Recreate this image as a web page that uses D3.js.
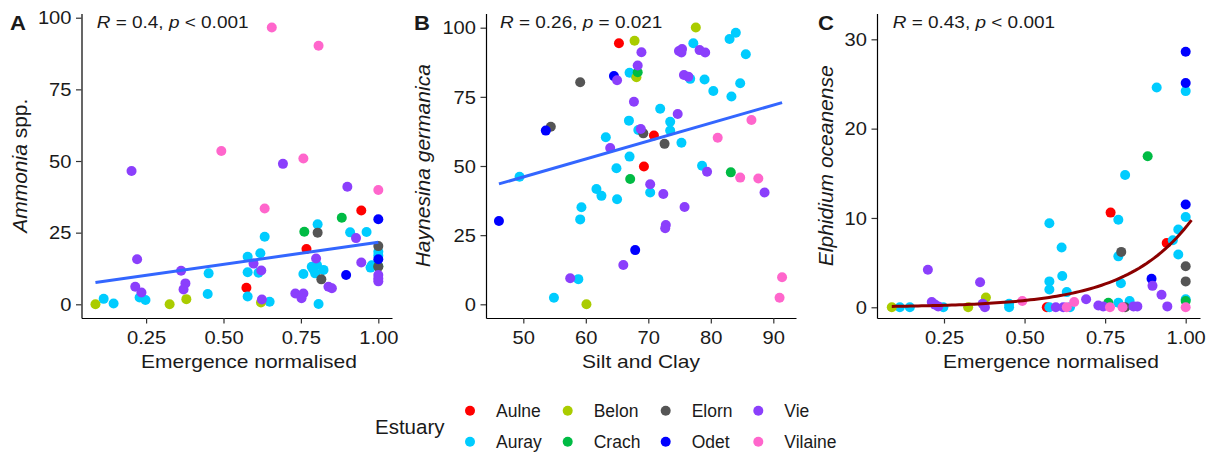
<!DOCTYPE html>
<html><head><meta charset="utf-8">
<script src="https://cdn.jsdelivr.net/npm/d3@7"></script>
<style>
body{margin:0;background:#fff}
text{font-family:"Liberation Sans",Arial,Helvetica,sans-serif;fill:#1a1a1a}
</style>
</head><body><svg id="c" width="1214" height="453"></svg>
<script>
// ---------- data ----------
const estuaries = ["Aulne","Auray","Belon","Crach","Elorn","Odet","Vie","Vilaine"];
const estuaryColors = ["#FF0000","#00CCFF","#AACC00","#00BB44","#555555","#0000FF","#8B3FFC","#FF66CC"];

// Panel A: Emergence normalised vs Ammonia spp.
const ammonia = [
 ["Aulne",0.945,32.7],["Aulne",0.768,19.3],["Aulne",0.574,5.8],
 ["Auray",0.804,27.9],["Auray",0.909,25.1],["Auray",0.962,25.2],["Auray",0.633,23.6],["Auray",0.619,17.8],
 ["Auray",0.578,16.6],["Auray",0.613,11.0],["Auray",0.578,11.2],["Auray",0.452,10.8],["Auray",0.758,10.6],
 ["Auray",0.785,13.1],["Auray",0.802,13.7],["Auray",0.823,12.0],["Auray",0.796,10.8],["Auray",0.807,0.1],
 ["Auray",0.979,13.6],["Auray",0.975,12.8],["Auray",1.0,18.3],["Auray",1.0,17.0],["Auray",0.578,2.7],
 ["Auray",0.649,0.9],["Auray",0.113,1.9],["Auray",0.145,0.3],["Auray",0.229,2.4],["Auray",0.248,1.5],
 ["Auray",0.449,3.6],["Auray",0.790,12.2],
 ["Belon",0.0865,0],["Belon",0.326,0],["Belon",0.380,1.8],["Belon",0.621,0.6],
 ["Crach",0.882,30.2],["Crach",0.761,25.3],["Crach",1.0,13.3],
 ["Elorn",0.804,25.0],["Elorn",1.0,20.3],["Elorn",1.0,13.1],["Elorn",0.816,8.7],
 ["Odet",1.0,29.7],["Odet",1.0,15.7],["Odet",0.896,10.2],
 ["Vie",0.203,46.5],["Vie",0.692,49.0],["Vie",0.900,41.0],["Vie",0.928,23.1],["Vie",0.945,14.6],
 ["Vie",0.799,16.0],["Vie",0.597,14.2],["Vie",0.622,11.8],["Vie",0.363,11.7],["Vie",0.221,15.7],
 ["Vie",0.215,6.1],["Vie",0.235,4.1],["Vie",0.377,7.3],["Vie",0.371,5.2],["Vie",0.624,1.7],
 ["Vie",0.732,3.8],["Vie",0.758,3.8],["Vie",0.752,2.1],["Vie",0.839,6.1],["Vie",0.850,5.6],
 ["Vie",1.0,10.2],["Vie",1.0,9.0],["Vie",1.0,8.0],
 ["Vilaine",0.656,96.6],["Vilaine",0.807,90.2],["Vilaine",0.493,53.5],["Vilaine",0.758,50.9],
 ["Vilaine",1.0,39.9],["Vilaine",0.633,33.4]
];

// Panel B: Silt and Clay vs Haynesina germanica
const haynesina = [
 ["Aulne",65.3,94.4],["Aulne",69.3,49.8],["Aulne",70.9,61.0],
 ["Auray",49.4,46.1],["Auray",54.9,2.4],["Auray",58.8,9.1],["Auray",59.3,35.1],["Auray",59.1,30.7],
 ["Auray",61.7,41.7],["Auray",62.5,39.2],["Auray",63.2,60.4],["Auray",64.9,49.2],["Auray",65.0,38.0],
 ["Auray",67.0,83.7],["Auray",66.9,66.4],["Auray",67.0,53.4],["Auray",68.4,63.0],["Auray",70.3,40.4],
 ["Auray",71.9,70.7],["Auray",73.5,66.0],["Auray",73.5,62.8],["Auray",75.3,58.4],["Auray",76.7,81.5],
 ["Auray",77.2,94.4],["Auray",79.0,81.3],["Auray",78.6,50.1],["Auray",80.4,77.1],["Auray",83.0,95.9],
 ["Auray",84.0,98.2],["Auray",83.3,75.1],["Auray",84.7,79.9],["Auray",85.6,90.4],["Auray",68.0,82.5],
 ["Belon",60.1,0],["Belon",67.8,95.3],["Belon",68.1,82.1],["Belon",77.6,100.1],
 ["Crach",67.1,45.3],["Crach",68.3,83.9],["Crach",83.2,47.7],
 ["Elorn",54.4,64.2],["Elorn",59.1,80.3],["Elorn",69.2,61.8],["Elorn",72.6,58.0],
 ["Odet",46.1,30.1],["Odet",53.6,62.8],["Odet",64.5,82.5],["Odet",67.9,19.6],
 ["Vie",57.5,9.4],["Vie",63.9,56.5],["Vie",65.0,81.0],["Vie",66.0,14.2],["Vie",67.7,73.2],
 ["Vie",68.3,86.3],["Vie",68.9,91.1],["Vie",68.8,63.4],["Vie",70.3,43.4],["Vie",72.4,39.9],
 ["Vie",72.8,28.7],["Vie",72.7,27.5],["Vie",74.7,68.8],["Vie",75.8,35.2],["Vie",74.9,91.6],
 ["Vie",75.4,92.3],["Vie",75.3,91.0],["Vie",75.7,82.9],["Vie",76.4,82.3],["Vie",78.2,91.9],
 ["Vie",79.1,91.0],["Vie",79.4,47.9],["Vie",88.6,40.4],
 ["Vilaine",81.1,60.2],["Vilaine",84.7,45.8],["Vilaine",86.5,66.6],["Vilaine",87.6,45.5],
 ["Vilaine",91.4,9.8],["Vilaine",91.0,2.4]
];

// Panel C: Emergence normalised vs Elphidium oceanense
const elphidium = [
 ["Aulne",0.767,10.6],["Aulne",0.941,7.2],["Aulne",0.569,0],
 ["Auray",0.910,24.6],["Auray",1.0,24.2],["Auray",0.812,14.8],["Auray",1.0,10.1],["Auray",0.791,9.8],
 ["Auray",0.577,9.4],["Auray",0.977,8.7],["Auray",0.960,7.5],["Auray",0.977,5.9],["Auray",0.791,5.7],
 ["Auray",0.615,6.7],["Auray",0.617,3.5],["Auray",0.577,2.9],["Auray",0.577,2.0],["Auray",0.799,2.7],
 ["Auray",0.631,1.7],["Auray",1.0,0.9],["Auray",0.826,0.7],["Auray",0.113,0],["Auray",0.144,0],
 ["Auray",0.248,0],["Auray",0.452,0.4],["Auray",0.452,0],["Auray",0.577,0],["Auray",0.641,0],
 ["Auray",0.791,0.5],
 ["Belon",0.088,0],["Belon",0.325,0],["Belon",0.380,1.1],
 ["Crach",0.882,16.9],["Crach",1.0,0.7],["Crach",0.760,0.5],
 ["Elorn",0.800,6.2],["Elorn",1.0,4.6],["Elorn",1.0,2.9],["Elorn",0.812,0],
 ["Odet",1.0,28.6],["Odet",1.0,25.1],["Odet",1.0,11.5],["Odet",0.894,3.2],
 ["Vie",0.200,4.2],["Vie",0.362,2.8],["Vie",0.897,2.4],["Vie",0.925,1.4],["Vie",0.943,0.1],
 ["Vie",0.691,0.9],["Vie",0.212,0.6],["Vie",0.222,0.3],["Vie",0.232,0.1],["Vie",0.370,0.4],
 ["Vie",0.377,0],["Vie",0.597,0],["Vie",0.620,0],["Vie",0.729,0.2],["Vie",0.744,0.1],
 ["Vie",0.838,0.1],["Vie",0.850,0.1],
 ["Vilaine",0.493,0.7],["Vilaine",0.654,0.6],["Vilaine",0.631,0],["Vilaine",0.765,0],
 ["Vilaine",0.804,0],["Vilaine",1.0,0]
];

// fitted trends: [intercept, slope], x-span
const fitA = [6.32, 15.3], fitSpanA = [0.0865, 1.0];
const fitB = [13.6, 0.649], fitSpanB = [46.1, 91.4];
const fitC = [-2.74, 4.93], fitSpanC = [0.088, 1.018];   // y = exp(a + b x)

// axis limits and ticks
const limitsA = {x:[0.0414, 1.0442], y:[-4.78, 101.47]};
const limitsB = {x:[44.03, 93.63],  y:[-4.95, 105.13]};
const limitsC = {x:[0.0421, 1.0444], y:[-1.20, 32.89]};
const ticksEmergence = [0.25, 0.5, 0.75, 1.0];
const ticksSilt = [50, 60, 70, 80, 90];
const ticksAB = [0, 25, 50, 75, 100];
const ticksC = [0, 10, 20, 30];

const statsText = [
  [["R",1],[" = 0.4, ",0],["p",1],[" < 0.001",0]],
  [["R",1],[" = 0.26, ",0],["p",1],[" = 0.021",0]],
  [["R",1],[" = 0.43, ",0],["p",1],[" < 0.001",0]]
];

// ---------- drawing ----------
const svg = d3.select("#c");
const color = d3.scaleOrdinal().domain(estuaries).range(estuaryColors);
const SX = 1.15;           // horizontal widening of the reference text
const TOP = 13.5, BOTTOM = 318;

function hText(parent, x, y, anchor, size, parts, opts = {}) {
  const t = parent.append("text")
    .attr("transform", `translate(${x},${y}) scale(${opts.sx || SX},1)`)
    .attr("text-anchor", anchor)
    .style("font-size", size + "px");
  if (opts.bold) t.style("font-weight", "bold");
  parts.forEach(([s, it]) => t.append("tspan").text(s).style("font-style", it ? "italic" : "normal"));
  return t;
}

function panel(cfg) {
  const g = svg.append("g");
  const x = d3.scaleLinear().domain(cfg.limits.x).range([cfg.left, cfg.right]);
  const y = d3.scaleLinear().domain(cfg.limits.y).range([BOTTOM, TOP]);

  // points
  g.append("g").selectAll("circle").data(cfg.data).join("circle")
    .attr("cx", d => x(d[1])).attr("cy", d => y(d[2])).attr("r", 5)
    .attr("fill", d => color(d[0]));

  // trend
  const line = d3.line().x(d => x(d[0])).y(d => y(d[1]));
  const xs = cfg.curve ? d3.range(cfg.span[0], cfg.span[1] + 1e-9, (cfg.span[1]-cfg.span[0])/80).concat([cfg.span[1]])
                       : cfg.span;
  const pts = xs.map(v => [v, cfg.curve ? Math.exp(cfg.fit[0] + cfg.fit[1]*v) : cfg.fit[0] + cfg.fit[1]*v]);
  g.append("path").attr("d", line(pts)).attr("fill", "none")
    .attr("stroke", cfg.lineColor).attr("stroke-width", 3).attr("stroke-linecap", "butt");

  // axes
  const xa = g.append("g").attr("transform", `translate(0,${BOTTOM})`)
    .call(d3.axisBottom(x).tickValues(cfg.xticks).tickFormat(cfg.xfmt).tickSizeInner(5.5).tickSizeOuter(0));
  const ya = g.append("g").attr("transform", `translate(${cfg.left},0)`)
    .call(d3.axisLeft(y).tickValues(cfg.yticks).tickFormat(d3.format("d")).tickSizeInner(5.5).tickSizeOuter(0));
  [xa, ya].forEach(a => {
    a.select(".domain").attr("stroke", "#000").attr("stroke-width", 1.2);
    a.selectAll(".tick line").attr("stroke", "#333").attr("stroke-width", 1.2);
    a.selectAll(".tick text").style("font-size", "17.5px").style("font-family", '"Liberation Sans",Arial,sans-serif')
      .attr("fill", "#1a1a1a").attr("dy", null).attr("x", 0).attr("y", 0);
  });
  xa.selectAll(".tick text").attr("transform", `translate(0,25.5) scale(${SX},1)`);
  ya.selectAll(".tick text").attr("transform", `translate(-10,6.2) scale(${SX},1)`);

  // titles
  hText(g, cfg.xTitleX, 368.3, "middle", 18.6, [[cfg.xTitle, 0]], {sx: 1.13});
  const yt = g.append("text")
    .attr("transform", `translate(${cfg.yTitleX},${(TOP+BOTTOM)/2}) rotate(-90)`)
    .attr("text-anchor", "middle").style("font-size", "21px");
  cfg.yTitle.forEach(([s, it]) => yt.append("tspan").text(s).style("font-style", it ? "italic" : "normal"));

  hText(g, cfg.statX, 28.3, "start", 16.5, cfg.stat);
  hText(g, cfg.letterX, 29.5, "start", 21, [[cfg.letter, 0]], {bold: true, sx: 1.05});
}

panel({letter:"A", letterX:10, left:81.5, right:392, limits:limitsA, data:ammonia,
  fit:fitA, span:fitSpanA, curve:false, lineColor:"#3366FF",
  xticks:ticksEmergence, xfmt:d3.format(".2f"), yticks:ticksAB,
  xTitle:"Emergence normalised", xTitleX:249, yTitle:[["Ammonia",1],[" spp.",0]], yTitleX:27,
  stat:statsText[0], statX:96.7});
panel({letter:"B", letterX:414, left:486, right:796, limits:limitsB, data:haynesina,
  fit:fitB, span:fitSpanB, curve:false, lineColor:"#3366FF",
  xticks:ticksSilt, xfmt:d3.format("d"), yticks:ticksAB,
  xTitle:"Silt and Clay", xTitleX:641, yTitle:[["Haynesina germanica",1]], yTitleX:430,
  stat:statsText[1], statX:500});
panel({letter:"C", letterX:818, left:877, right:1200, limits:limitsC, data:elphidium,
  fit:fitC, span:fitSpanC, curve:true, lineColor:"#8B0000",
  xticks:ticksEmergence, xfmt:d3.format(".2f"), yticks:ticksC,
  xTitle:"Emergence normalised", xTitleX:1051, yTitle:[["Elphidium oceanense",1]], yTitleX:833,
  stat:statsText[2], statX:892.7});

// ---------- legend ----------
const lg = svg.append("g");
lg.append("text").attr("x", 375).attr("y", 434.3).style("font-size", "20.5px").text("Estuary");
const colX = [470, 567.7, 665.7, 758.3];
const rowY = [410.7, 441.7];
estuaries.forEach((e, i) => {
  const cx = colX[Math.floor(i / 2)], cy = rowY[i % 2];
  lg.append("circle").attr("cx", cx).attr("cy", cy).attr("r", 5).attr("fill", color(e));
  lg.append("text").attr("x", cx + 26).attr("y", cy + 6.4).style("font-size", "17.5px").text(e);
});
</script>
</body></html>
